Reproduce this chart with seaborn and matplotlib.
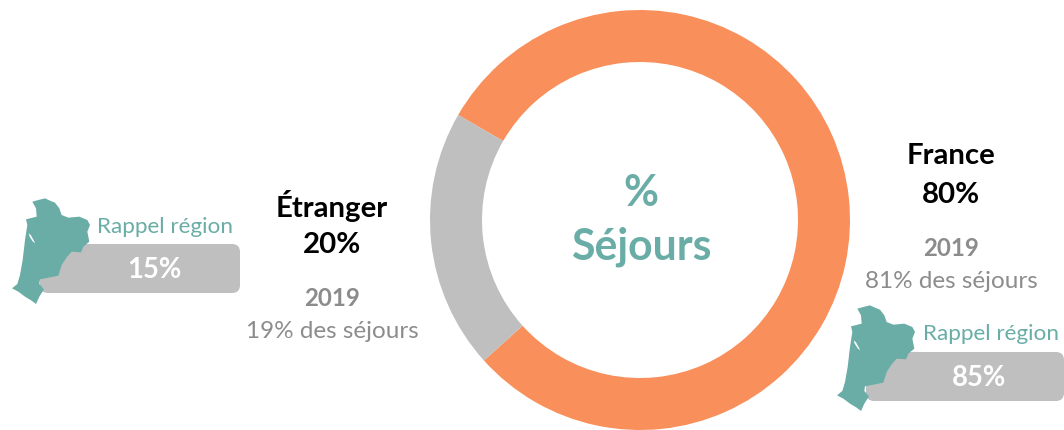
import matplotlib
matplotlib.use("Agg")
import matplotlib.pyplot as plt
from matplotlib.patches import FancyBboxPatch, Polygon
import seaborn as sns

sns.set_theme(style="white")
plt.rcParams['font.family'] = ['Lato', 'DejaVu Sans']

categories = ["France", "Étranger"]
values_2020 = [80, 20]
values_2019 = [81, 19]
values_region = [85, 15]
center_title = ["%", "Séjours"]
region_label = "Rappel région"
ORANGE, GRAY, TEAL, TXT = "#F98F5A", "#BFBFBF", "#6AADA6", "#8C8C8C"

# Outline of the region icon (decoration), in thirds of a pixel
region_shape = [(97,65),(115,60),(135,55),(150,62),(165,68),(178,85),(185,105),(205,113),(238,110),(262,120),
                (270,135),(262,155),(268,185),(250,200),(243,217),(215,215),(200,232),(185,255),(175,287),
                (150,292),(120,298),(118,312),(132,328),(118,350),(108,372),(95,362),(75,350),(55,335),(36,325),
                (52,312),(60,285),(68,240),(75,180),(82,135),(78,118),(110,110),(108,85)]
estuary_shape = [(86,160),(93,166),(106,190),(98,184),(89,170)]

fig = plt.figure(figsize=(10.64, 4.30), dpi=100)
W, H = 1064, 430

ax = fig.add_axes([(640-210)/W, 0, 420/W, 420/H])
ax.pie(values_2020, colors=[ORANGE, GRAY], startangle=150, counterclock=False,
       radius=1, wedgeprops=dict(width=52/210, linewidth=0))
ax.set_xlim(-1, 1); ax.set_ylim(-1, 1)
ax.set_aspect("equal")

o = fig.add_axes([0, 0, 1, 1], facecolor="none")
o.set_xlim(0, W); o.set_ylim(H, 0); o.axis("off")

def t(x, y, s, size, color, bold=False):
    o.text(x, y, s, ha="center", va="center", fontsize=size, color=color,
           fontweight="bold" if bold else "normal")

t(641, 193, center_title[0], 30.8, TEAL, True)
t(641, 247, center_title[1], 30.8, TEAL, True)

def block(cx, y0, name, v, prev):
    t(cx, y0, name, 21.2, "black", True)
    t(cx, y0+39, f"{v}%", 21.2, "black", True)
    t(cx, y0+93, "2019", 17.3, TXT, True)
    t(cx, y0+126, f"{prev}% des séjours", 17.5, TXT)

block(951, 156, categories[0], values_2020[0], values_2019[0])
block(332, 206, categories[1], values_2020[1], values_2019[1])

def recall(bx0, bx1, by0, by1, dx, dy, lx, ly, tx, v):
    o.add_patch(FancyBboxPatch((bx0, by0), bx1-bx0, by1-by0,
                               boxstyle="round,pad=0,rounding_size=8", fc=GRAY, ec="none"))
    o.add_patch(Polygon([(dx+a/3, dy+b/3) for a, b in region_shape], closed=True, fc=TEAL, ec="none"))
    o.add_patch(Polygon([(dx+a/3, dy+b/3) for a, b in estuary_shape], closed=True, fc="white", ec="none"))
    t(lx, ly, region_label, 16.2, TEAL)
    t(tx, (by0+by1)/2+1, f"{v}%", 19.8, "white", True)

recall(40, 240, 244, 293, 0, 180, 165, 227, 154, values_region[1])
recall(866, 1064, 352, 401, 825, 287, 991, 334, 979, values_region[0])

fig.savefig("out.png", dpi=100, facecolor="white")
